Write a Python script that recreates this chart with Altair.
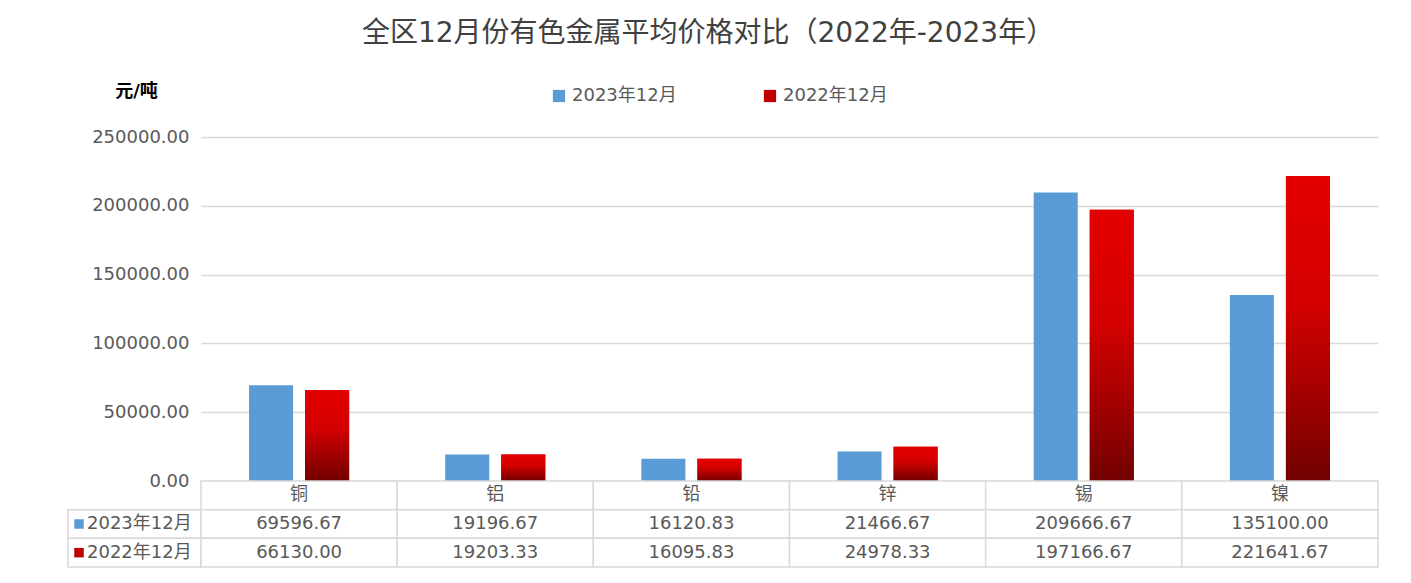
import altair as alt
import pandas as pd

metals = ["铜", "铝", "铅", "锌", "锡", "镍"]
series = ["2023年12月", "2022年12月"]
v2023 = [69596.67, 19196.67, 16120.83, 21466.67, 209666.67, 135100.00]
v2022 = [66130.00, 19203.33, 16095.83, 24978.33, 197166.67, 221641.67]
y_ticks = [0, 50000, 100000, 150000, 200000, 250000]
colors = ["#5b9bd5", "#c00000"]

FONT = "DejaVu Sans, Noto Sans CJK SC"
GRID = "#d9d9d9"
TXT = "#595959"

rows = []
for s, vals in zip(series, [v2023, v2022]):
    for m, v in zip(metals, vals):
        rows.append({"metal": m, "series": s, "value": v, "label": f"{v:.2f}"})
df = pd.DataFrame(rows)

hdr = pd.DataFrame({"metal": metals, "series": ["hdr"] * len(metals), "label": metals})
table_df = pd.concat([hdr, df[["metal", "series", "label"]]], ignore_index=True)
left_df = pd.DataFrame({"series": series})

W = 1177
x_enc = alt.X("metal:N", sort=metals, scale=alt.Scale(domain=metals, paddingInner=0, paddingOuter=0), axis=None)
xoff = alt.XOffset("series:N", scale=alt.Scale(domain=series, paddingInner=0.2143, paddingOuter=0.857))
y_enc = alt.Y(
    "value:Q",
    scale=alt.Scale(domain=[0, 250000]),
    axis=alt.Axis(
        values=y_ticks, format=".2f", title="元/吨", titleAngle=0, titleX=-65, titleY=-46,
        titleAlign="center", titleBaseline="middle", titleFontSize=18, titleFontWeight="bold",
        titleColor="#000000", labelFontSize=18, labelColor=TXT, labelPadding=12,
        ticks=False, domain=False, gridColor=GRID, gridWidth=1.5,
    ),
)

bars = alt.Chart(df).mark_bar().encode(
    x=x_enc, xOffset=xoff, y=y_enc,
    color=alt.Color(
        "series:N",
        scale=alt.Scale(domain=series, range=colors),
        legend=alt.Legend(
            title=None, orient="none", legendX=349, legendY=-50, direction="horizontal",
            symbolType="square", symbolSize=150, symbolStrokeWidth=0, labelFontSize=18,
            labelColor=TXT, labelOffset=4, columnPadding=84,
        ),
    ),
)

grad = alt.Gradient(
    gradient="linear",
    stops=[
        alt.GradientStop(color="#e30000", offset=0),
        alt.GradientStop(color="#d40000", offset=0.42),
        alt.GradientStop(color="#720000", offset=1),
    ],
    x1=0, x2=0, y1=0, y2=1,
)
red = alt.Chart(df).transform_filter(alt.datum.series == series[1]).mark_bar(color=grad).encode(
    x=x_enc, xOffset=xoff, y=y_enc,
)

top = alt.layer(bars, red).properties(width=W, height=344)

row_dom = ["hdr"] + series
ty = alt.Y("series:N", scale=alt.Scale(domain=row_dom, paddingInner=0, paddingOuter=0), axis=None)
tx = alt.X("metal:N", sort=metals, scale=alt.Scale(domain=metals, paddingInner=0, paddingOuter=0), axis=None)

cells = alt.Chart(table_df).mark_rect(fill="white", stroke=GRID, strokeWidth=1.5).encode(x=tx, y=ty)
cell_text = alt.Chart(table_df).mark_text(fontSize=18, color=TXT, baseline="middle").encode(
    x=tx, y=ty, text="label:N"
)
left_cells = alt.Chart(left_df).mark_rect(fill="white", stroke=GRID, strokeWidth=1.5).encode(
    x=alt.value(-133), x2=alt.value(0), y=ty
)
left_sym = alt.Chart(left_df).mark_point(shape="square", filled=True, size=90, opacity=1).encode(
    x=alt.value(-122), y=ty,
    color=alt.Color("series:N", scale=alt.Scale(domain=series, range=colors), legend=None),
)
left_text = alt.Chart(left_df).mark_text(fontSize=18, color=TXT, align="left", baseline="middle").encode(
    x=alt.value(-114), y=ty, text="series:N"
)
table = alt.layer(left_cells, cells, cell_text, left_sym, left_text).properties(width=W, height=86)

chart = alt.vconcat(top, table, spacing=0, bounds="flush").properties(
    title=alt.TitleParams(
        "全区12月份有色金属平均价格对比（2022年-2023年）",
        fontSize=28, fontWeight="normal", color="#404040", anchor="middle", offset=34, dx=-15,
    ),
    padding={"left": 59, "top": 12, "right": 5, "bottom": 5},
).resolve_scale(color="independent").configure(font=FONT).configure_view(stroke=None)

chart.save("out.html", embed_options={"renderer": "svg", "actions": False})
